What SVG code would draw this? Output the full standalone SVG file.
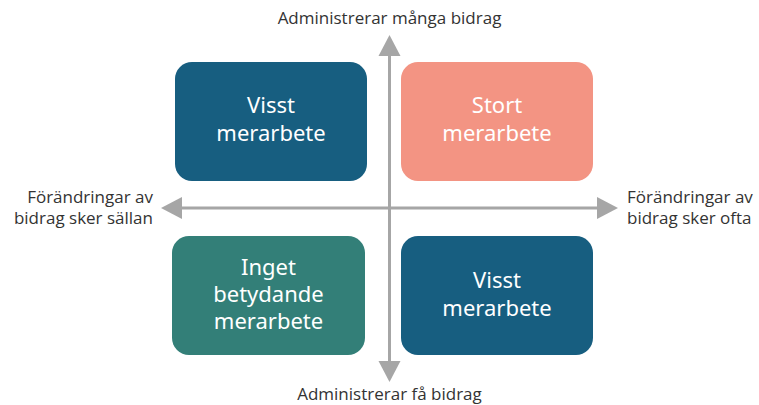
<svg xmlns="http://www.w3.org/2000/svg" width="759" height="405" viewBox="0 0 759 405">
<defs>
<style>
.box text{font-family:"Noto Sans",sans-serif;font-size:22px;fill:#ffffff;text-anchor:middle}
.lbl{font-family:"Open Sans",Lato,sans-serif;font-size:17px;fill:#333333}
.axis{stroke:#a6a6a6;stroke-width:3;fill:none}
.head{fill:#a6a6a6}
</style>
</defs>
<rect width="759" height="405" fill="#ffffff"/>
<g id="connectors">
<line class="axis" x1="389.5" y1="52" x2="389.5" y2="366"/>
<polygon class="head" points="389.5,35 378.5,56 400.5,56"/>
<polygon class="head" points="389.5,382 378.5,361 400.5,361"/>
<line class="axis" x1="178" y1="208" x2="601" y2="208"/>
<polygon class="head" points="161,208 182,197 182,219"/>
<polygon class="head" points="618,208 597,197 597,219"/>
</g>
<g id="node-tl" class="box">
<rect x="175" y="62" width="192" height="119" rx="17" fill="#175e80"/>
<text x="271" y="113">Visst</text>
<text x="271" y="141">merarbete</text>
</g>
<g id="node-tr" class="box">
<rect x="401" y="62" width="192" height="119" rx="17" fill="#f39483"/>
<text x="497" y="113">Stort</text>
<text x="497" y="141">merarbete</text>
</g>
<g id="node-bl" class="box">
<rect x="172" y="236" width="193" height="119" rx="17" fill="#337f78"/>
<text x="268.5" y="275">Inget</text>
<text x="268.5" y="302">betydande</text>
<text x="268.5" y="329">merarbete</text>
</g>
<g id="node-br" class="box">
<rect x="401" y="236" width="192" height="119" rx="17" fill="#175e80"/>
<text x="497" y="288">Visst</text>
<text x="497" y="316">merarbete</text>
</g>
<g id="label-top"><text class="lbl" x="389.5" y="24" text-anchor="middle">Administrerar många bidrag</text></g>
<g id="label-bottom"><text class="lbl" x="389.5" y="400" text-anchor="middle">Administrerar få bidrag</text></g>
<g id="label-left"><text class="lbl" text-anchor="end"><tspan x="153" y="203">Förändringar av</tspan><tspan x="153" y="224">bidrag sker sällan</tspan></text></g>
<g id="label-right"><text class="lbl" text-anchor="start"><tspan x="627" y="203">Förändringar av</tspan><tspan x="627" y="224">bidrag sker ofta</tspan></text></g>
</svg>
